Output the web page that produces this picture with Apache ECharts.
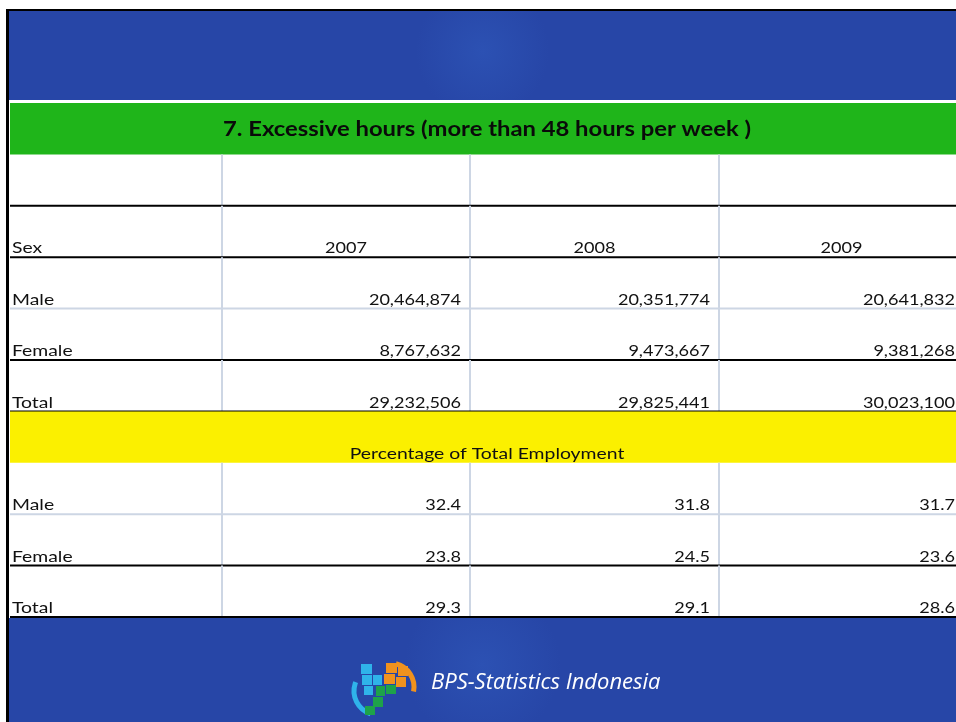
<!DOCTYPE html>
<html>
<head>
<meta charset="utf-8">
<script src="https://cdn.jsdelivr.net/npm/echarts@6/dist/echarts.min.js"></script>
<style>
  html, body { margin: 0; padding: 0; background: #ffffff; }
  #main { width: 956px; height: 722px; }
</style>
</head>
<body>
<div id="main"></div>
<script>
// table data
var title = '7. Excessive hours (more than 48 hours per week )';
var years = ['2007', '2008', '2009'];
var sexLabels = ['Male', 'Female', 'Total'];
var maleCount = [20464874, 20351774, 20641832];
var femaleCount = [8767632, 9473667, 9381268];
var totalCount = [29232506, 29825441, 30023100];
var pctTitle = 'Percentage of Total Employment';
var malePct = [32.4, 31.8, 31.7];
var femalePct = [23.8, 24.5, 23.6];
var totalPct = [29.3, 29.1, 28.6];

// rows of the sheet, top to bottom
var rowKeys = ['title', 'blank', 'head', 'c0', 'c1', 'c2', 'band', 'p0', 'p1', 'p2'];
// bottom rule of each row: 'k' black, 'g' light grid, '' none
var rowRule = ['', 'k', 'k', 'g', 'k', 'k', '', 'g', 'k', 'k'];
// column edges (px from grid left), last column runs past the slide
var colEdges = [0, 212, 460, 709, 954];

var countRows = [maleCount, femaleCount, totalCount];
var pctRows = [malePct, femalePct, totalPct];

var FONT = 'Lato';
var TXT = '#111111';
// the slide text is a wide Calibri, so Lato gets stretched a bit
var WORD_SX = 1.21, NUM_SX = 1.13;

var myChart = echarts.init(document.getElementById('main'));

function fmtCount(v) { return v.toLocaleString('en-US'); }
function fmtPct(v) { return v.toFixed(1); }

function txt(x, y, s, align, font, sx) {
	return {
		type: 'text', x: x, y: y, scaleX: sx,
		style: { text: s, fill: TXT, font: font, align: align, verticalAlign: 'bottom' }
	};
}

function renderRow(params, api) {
	var r = api.value(0);
	var key = rowKeys[r];
	var c = api.coord([0, r]);
	var h = api.size([0, 1])[1];
	var top = c[1] - h / 2, bot = c[1] + h / 2;
	var left = params.coordSys.x;
	var right = params.coordSys.x + params.coordSys.width;
	var xs = colEdges.map(function (e) { return api.coord([e, r])[0]; });
	var mid = (xs[0] + xs[4]) / 2;
	var base = bot - 1;
	var body = '16px ' + FONT;
	var kids = [];

	if (key === 'title') {
		kids.push({ type: 'rect', shape: { x: left, y: top, width: right - left, height: h }, style: { fill: '#1fb51a' } });
		kids.push({ type: 'text', x: mid, y: c[1] + 1, scaleX: 1.19, style: { text: title, fill: '#0a0a0a', font: 'bold 20px ' + FONT, align: 'center', verticalAlign: 'middle' } });
	} else if (key === 'band') {
		kids.push({ type: 'rect', shape: { x: left, y: top, width: right - left, height: h }, style: { fill: '#fbf000' } });
		kids.push(txt(mid, base, pctTitle, 'center', body, WORD_SX));
	} else {
		for (var i = 1; i < 4; i++) {
			kids.push({ type: 'line', shape: { x1: xs[i], y1: top, x2: xs[i], y2: bot }, style: { stroke: '#cdd6e4', lineWidth: 2 } });
		}
		var label = null, cells = [];
		if (key === 'head') {
			label = 'Sex';
			years.forEach(function (y, j) {
				kids.push(txt((xs[j + 1] + xs[j + 2]) / 2, base, y, 'center', body, NUM_SX));
			});
		} else if (key.charAt(0) === 'c') {
			var k = +key.charAt(1);
			label = sexLabels[k];
			cells = countRows[k].map(fmtCount);
		} else if (key.charAt(0) === 'p') {
			var k2 = +key.charAt(1);
			label = sexLabels[k2];
			cells = pctRows[k2].map(fmtPct);
		}
		if (label) {
			kids.push(txt(xs[0] + 2, base, label, 'left', body, WORD_SX));
		}
		cells.forEach(function (t, j) {
			kids.push(txt(xs[j + 2] - 9, base, t, 'right', body, NUM_SX));
		});
	}
	if (rowRule[r]) {
		kids.push({ type: 'line', shape: { x1: left, y1: bot, x2: right, y2: bot }, style: { stroke: rowRule[r] === 'k' ? '#000000' : '#cdd6e4', lineWidth: 2 } });
	}
	return { type: 'group', children: kids };
}

var blueFill = {
	type: 'radial', x: 0.5, y: 0.45, r: 0.75,
	colorStops: [{ offset: 0, color: '#2c51b3' }, { offset: 1, color: '#2746a7' }]
};

function block(x, y, w, h, color) {
	return { type: 'rect', shape: { x: x, y: y, width: w, height: h }, style: { fill: color } };
}
var CY = '#2fb3ea', OR = '#f0921e', GR = '#1ea24a';

option = {
	animation: false,
	grid: { left: 10, right: 0, top: 103, bottom: 105 },
	xAxis: { type: 'value', min: 0, max: 946, show: false },
	yAxis: { type: 'category', data: rowKeys, inverse: true, show: false },
	graphic: [
		{ type: 'rect', z: 0, shape: { x: 9, y: 11, width: 947, height: 89 }, style: { fill: blueFill } },
		{ type: 'rect', z: 0, shape: { x: 9, y: 618, width: 947, height: 104 }, style: { fill: blueFill } },
		{ type: 'rect', z: 0, shape: { x: 6, y: 9, width: 950, height: 2 }, style: { fill: '#000000' } },
		{ type: 'rect', z: 10, shape: { x: 6, y: 9, width: 3, height: 713 }, style: { fill: '#000000' } },
		// BPS logo
		{ type: 'group', z: 5, x: 348, y: 661, children: [
			{ type: 'arc', shape: { cx: 30, cy: 30, r: 24, startAngle: Math.PI * 0.6, endAngle: Math.PI * 1.12 }, style: { stroke: CY, lineWidth: 5, fill: null } },
			{ type: 'arc', shape: { cx: 42, cy: 26, r: 24, startAngle: -Math.PI * 0.42, endAngle: Math.PI * 0.06 }, style: { stroke: OR, lineWidth: 5, fill: null } },
			block(13, 3, 11, 10, CY), block(14, 14, 10, 10, CY), block(25, 14, 9, 10, CY), block(16, 25, 9, 9, CY),
			block(38, 2, 11, 10, OR), block(50, 5, 10, 10, OR), block(36, 13, 11, 10, OR), block(48, 16, 10, 10, OR),
			block(28, 25, 9, 10, GR), block(38, 24, 10, 9, GR), block(25, 36, 10, 10, GR), block(17, 45, 10, 9, GR)
		] },
		{ type: 'text', z: 5, x: 431, y: 683, style: { text: 'BPS-Statistics Indonesia', fill: '#ffffff', font: 'italic 22px "Open Sans"', verticalAlign: 'middle' } }
	],
	series: [{
		type: 'custom',
		z: 2,
		renderItem: renderRow,
		data: rowKeys.map(function (k, i) { return [i]; }),
		encode: { y: 0 },
		silent: true
	}]
};
myChart.setOption(option);
window.addEventListener('resize', function () { myChart.resize(); });
</script>
</body>
</html>
